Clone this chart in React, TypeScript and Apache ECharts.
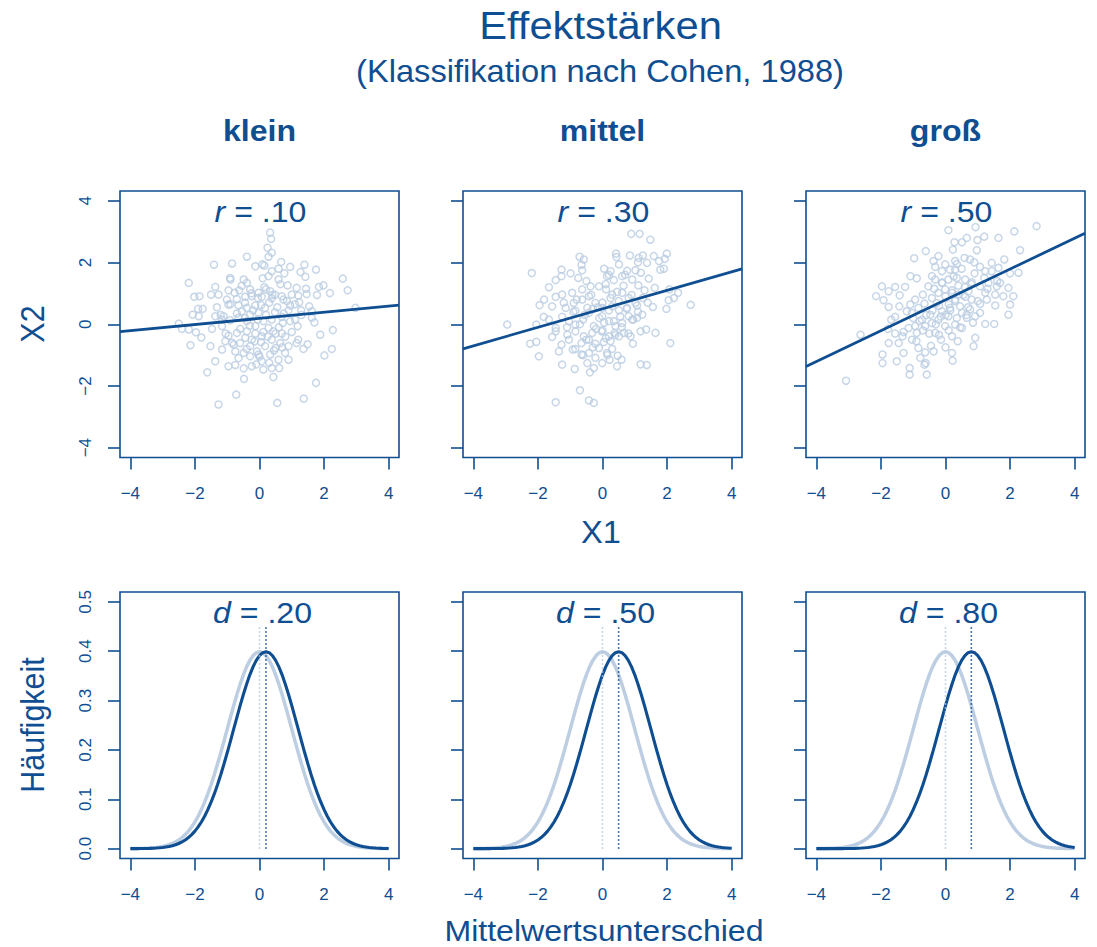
import React, { useEffect, useRef } from 'react';
import * as echarts from 'echarts';

const DARK = '#0f4e91';
const LIGHT = '#bdcee2';
const POINT = '#b9cce1';
const FONT = '"Liberation Sans", Arial, Helvetica, sans-serif';
const SX = 1.07;

const titleText = 'Effektstärken';
const subtitleText = '(Klassifikation nach Cohen, 1988)';
const columnHeaders = ['klein', 'mittel', 'groß'];
const rLabels = ['.10', '.30', '.50'];
const dLabels = ['.20', '.50', '.80'];
const dValues = [0.2, 0.5, 0.8];
const regIntercepts = [0.19, 0.5, 0.79];
const regSlopes = [0.1, 0.3, 0.5];
const xTicks = [-4, -2, 0, 2, 4];
const yTicksTop = [-4, -2, 0, 2, 4];
const yTicksBottom = [0, 0.1, 0.2, 0.3, 0.4, 0.5];
const dottedTop = 0.45;

// standard normal density at z = 0, 0.1, ..., 4.8
const normalPdfTable = [
  0.3989, 0.397, 0.391, 0.3814, 0.3683, 0.3521, 0.3332, 0.3123, 0.2897, 0.2661,
  0.242, 0.2179, 0.1942, 0.1714, 0.1497, 0.1295, 0.1109, 0.094, 0.079, 0.0656,
  0.054, 0.044, 0.0355, 0.0283, 0.0224, 0.0175, 0.0136, 0.0104, 0.0079, 0.006,
  0.0044, 0.0033, 0.0024, 0.0017, 0.0012, 0.0009, 0.0006, 0.0004, 0.0003, 0.0002,
  0.0001, 0.0001, 0.0001, 0, 0, 0, 0, 0, 0,
];

const scatterKlein = [
  [0.33, 2.97], [0.36, 2.77], [0.25, 2.48], [0.38, 2.32], [0.28, 2.19], [0.09, 1.94], [-0.39, 2.19], [-1.41, 1.93], [-0.85, 1.97], [0.67, 2.02],
  [0.95, 1.86], [1.39, 1.93], [1.75, 1.77], [1.27, 1.69], [1.42, 1.54], [2.58, 1.48], [2.73, 1.1], [-2.19, 1.34], [-1.37, 1.21], [-2.02, 0.89],
  [-1.86, 0.91], [-1.5, 0.96], [-0.91, 1.5], [-0.9, 1.45], [-0.49, 1.45], [-0.13, 1.88], [0.15, 1.9], [0.38, 1.72], [0.59, 1.8], [0.77, 1.65],
  [0.1, 1.49], [0.28, 1.56], [0.59, 1.45], [0.87, 1.26], [1.15, 1.18], [1.44, 1.15], [1.46, 0.98], [1.84, 1.21], [1.98, 1.26], [2.18, 1.01],
  [1.78, 0.95], [1.2, 0.93], [1.0, 0.96], [0.69, 0.91], [0.48, 0.96], [0.33, 1.07], [0.2, 1.13], [-0.03, 1.02], [-0.29, 1.13], [-0.39, 1.34],
  [-0.63, 1.1], [-0.77, 1.02], [-0.96, 1.1], [-1.27, 0.96], [-1.01, 0.8], [-0.7, 0.82], [-0.44, 0.89], [-0.24, 0.91], [0.07, 0.89], [0.38, 0.84],
  [0.74, 0.8], [0.95, 0.61], [1.23, 0.71], [1.54, 0.58], [1.62, 0.42], [1.29, 0.45], [0.9, 0.45], [0.69, 0.24], [0.48, 0.39], [0.17, 0.53],
  [-0.13, 0.61], [-0.39, 0.53], [-0.65, 0.61], [-0.96, 0.64], [-1.32, 0.55], [-1.76, 0.5], [-1.9, 0.5], [-2.07, 0.31], [-1.88, 0.26], [-2.5, 0.02],
  [-2.4, -0.15], [-2.19, -0.17], [-1.97, -0.26], [-1.8, -0.43], [-2.14, -0.68], [-1.47, -0.15], [-1.16, -0.06], [-1.37, 0.26], [-1.11, 0.26], [-0.91, 0.13],
  [-0.65, 0.21], [-0.39, 0.1], [-0.13, -0.06], [0.12, 0.1], [0.38, 0.15], [0.72, 0.04], [1.1, 0.15], [1.18, -0.06], [1.62, 0.21], [1.7, 0.06],
  [2.97, 0.53], [2.27, -0.19], [1.88, -0.34], [1.2, -0.5], [1.15, -0.61], [1.49, -0.65], [0.9, -0.71], [0.64, -0.61], [0.38, -0.5], [0.07, -0.39],
  [-0.13, -0.3], [-0.39, -0.23], [-0.7, -0.28], [-0.96, -0.37], [-1.06, -0.55], [-0.8, -0.66], [-0.6, -0.61], [-0.29, -0.71], [-0.08, -0.88], [0.17, -0.71],
  [0.5, -0.77], [0.79, -0.93], [0.9, -1.15], [0.59, -1.15], [0.33, -0.98], [0.07, -1.2], [0.12, -1.47], [0.38, -1.42], [0.61, -1.42], [-0.03, -0.98],
  [-0.29, -1.04], [-0.49, -0.93], [-0.75, -0.88], [-1.16, -0.82], [-1.37, -1.2], [-1.62, -1.56], [-0.96, -1.36], [-0.75, -1.32], [-0.49, -1.43], [-0.24, -1.36],
  [-0.48, -1.77], [0.43, -1.71], [2.24, -0.8], [2.01, -1.01], [1.36, -0.8], [1.75, -1.9], [1.37, -2.41], [0.55, -2.55], [-0.72, -2.28], [-1.27, -2.6],
  [-1.16, 0.15], [-1.52, -0.71], [0.28, -0.12], [-0.03, 0.37], [-0.29, 0.31], [-0.55, 0.42], [0.43, -0.23], [0.69, -0.3], [0.05, -0.58], [-0.24, -0.5],
  [-0.44, -0.44], [-0.2, 0.45], [0.05, 0.62], [0.3, 0.7], [0.55, 0.55], [-0.45, 0.7], [-0.7, 0.35], [0.75, 0.35], [0.95, 0.1], [-0.05, 0.15],
  [0.2, 0.3], [-0.3, -0.05], [0.6, -0.1], [-0.6, -0.15], [0.25, -0.4], [-0.15, -0.55], [0.45, -0.85], [-0.4, -0.8], [0.8, -0.4], [1.0, -0.25],
  [-0.85, -0.6], [0.15, 1.2], [-0.25, 1.0], [0.65, 1.3], [-0.55, 1.25], [0.0, -1.05], [0.3, -1.25], [-0.65, -1.1], [1.3, 0.3], [-1.2, 0.3],
  [0.85, 0.75], [-0.9, 0.65], [0.4, 0.95], [-0.05, 0.85], [0.12, -0.25], [-0.45, 0.2], [0.5, -0.3], [1.1, 0.65], [-1.05, -0.3], [0.7, -0.75],
  [-0.1, -1.3],
];

const scatterMittel = [
  [0.89, 2.93], [1.15, 2.93], [1.48, 2.74], [0.42, 2.29], [0.43, 2.18], [0.85, 2.23], [1.12, 2.15], [1.25, 2.23], [1.59, 2.21], [1.99, 2.29],
  [1.93, 2.12], [1.75, 2.05], [1.38, 1.99], [1.1, 2.01], [-0.71, 2.19], [-0.58, 2.1], [-0.65, 1.93], [-0.63, 1.75], [-2.19, 1.66], [-1.27, 1.77],
  [-0.99, 1.65], [-1.27, 1.56], [-1.45, 1.43], [-0.75, 1.5], [0.05, 1.8], [0.25, 1.72], [0.51, 1.94], [0.76, 1.73], [1.02, 1.75], [1.19, 1.67],
  [1.43, 1.48], [1.79, 1.77], [1.9, 1.8], [0.14, 1.56], [0.35, 1.43], [0.61, 1.56], [0.92, 1.45], [1.11, 1.26], [1.62, 1.18], [2.07, 1.13],
  [2.34, 1.02], [2.21, 0.85], [2.05, 0.78], [1.98, 0.5], [2.73, 0.63], [-1.66, 1.2], [-1.45, 0.89], [-1.81, 0.8], [-1.95, 0.62], [-1.56, 0.58],
  [-1.25, 0.96], [-0.94, 1.02], [-0.63, 1.13], [-0.37, 1.23], [-0.11, 1.23], [0.11, 1.13], [0.3, 0.96], [0.61, 1.02], [0.81, 0.85], [1.02, 0.69],
  [1.25, 0.85], [1.56, 0.56], [-0.42, 0.91], [-0.63, 0.8], [-0.89, 0.69], [-1.14, 0.53], [-0.84, 0.44], [-0.47, 0.53], [-0.22, 0.69], [-0.01, 0.53],
  [0.3, 0.58], [0.51, 0.45], [0.81, 0.26], [1.07, 0.61], [0.76, 0.53], [-2.95, -0.01], [-1.82, 0.24], [-2.05, -0.01], [-1.66, 0.15], [-1.45, -0.12],
  [-1.25, 0.24], [-1.04, 0.1], [-0.84, -0.01], [-0.6, 0.15], [-0.42, 0.37], [-0.27, -0.06], [-0.01, 0.26], [0.2, 0.1], [0.4, -0.06], [0.61, 0.04],
  [0.92, 0.15], [1.07, 0.21], [1.23, 0.31], [1.64, -0.28], [1.18, -0.23], [1.35, -0.17], [0.87, -0.39], [0.66, -0.28], [0.38, -0.28], [0.2, -0.39],
  [-0.03, -0.23], [-0.32, -0.28], [-0.58, -0.39], [-0.84, -0.23], [-1.09, -0.34], [-1.45, -0.23], [-1.56, -0.41], [-2.24, -0.63], [-2.05, -0.57], [-1.97, -1.04],
  [-1.27, -0.66], [-1.04, -0.5], [-0.65, -0.61], [-0.42, -0.5], [-0.22, -0.63], [0.04, -0.58], [0.25, -0.55], [0.51, -0.39], [0.94, -0.63], [2.1, -0.61],
  [-1.35, -0.88], [-0.92, -0.82], [-0.65, -0.98], [-0.42, -0.93], [-0.22, -1.09], [-0.01, -1.26], [0.22, -1.15], [0.47, -1.02], [0.59, -1.15], [0.45, -1.36],
  [-1.25, -1.31], [-0.86, -1.45], [-0.47, -1.26], [-0.39, -1.56], [-0.27, -1.42], [1.18, -1.3], [1.37, -1.32], [-0.7, -2.14], [-1.45, -2.53], [-0.42, -2.47],
  [-0.27, -2.55], [0.14, -0.93], [-0.11, -0.77], [-0.84, -0.8], [-0.3, 0.5], [0.0, 0.7], [0.25, 0.85], [0.5, 0.75], [-0.55, 0.3], [0.75, 0.5],
  [-0.1, 0.2], [0.2, 0.45], [0.45, 1.05], [-0.35, 0.95], [0.1, 1.3], [0.65, 1.25], [-0.7, 0.0], [0.9, 0.95], [-0.2, -0.15], [0.35, 0.1],
  [0.6, -0.1], [-0.5, -0.5], [0.1, -0.45], [0.8, -0.3], [-0.9, 0.4], [1.1, 0.4], [0.3, -0.8], [-0.3, -0.75], [0.0, -0.2], [-0.8, 0.8],
  [1.3, 1.1], [0.2, 1.6], [-0.5, 1.4], [0.55, 0.25], [-0.15, 0.55], [0.05, 0.05], [0.95, 0.15], [-1.1, -0.1], [0.7, 1.6], [-0.6, -1.0],
  [0.4, -0.35], [1.4, 0.7], [-1.2, 0.7], [0.15, -1.0],
];

const scatterGross = [
  [2.82, 3.18], [2.13, 3.01], [0.93, 3.15], [0.09, 3.05], [1.2, 2.84], [0.99, 2.73], [1.64, 2.8], [0.66, 2.8], [0.51, 2.66], [0.28, 2.66],
  [0.23, 2.42], [0.97, 2.4], [2.31, 2.4], [-0.61, 2.37], [-0.97, 2.14], [-0.22, 2.21], [-0.37, 2.05], [-0.32, 1.86], [-0.01, 1.94], [0.3, 2.05],
  [0.59, 2.15], [0.76, 2.1], [0.89, 2.01], [1.07, 1.86], [1.43, 1.99], [1.64, 1.83], [1.82, 2.1], [2.0, 1.65], [2.26, 1.67], [1.43, 1.72],
  [1.23, 1.72], [0.3, 1.77], [0.14, 1.77], [-0.11, 1.72], [-0.42, 1.56], [-1.09, 1.56], [-0.89, 1.49], [-1.25, 1.21], [-1.56, 1.21], [-1.97, 1.23],
  [-1.76, 1.07], [-2.15, 0.91], [-1.42, 0.94], [-1.92, 0.78], [-1.76, 0.56], [-1.43, 0.58], [-1.09, 0.64], [-0.94, 0.8], [-0.7, 0.96], [-0.53, 1.23],
  [-0.32, 1.45], [-0.11, 1.34], [0.09, 1.45], [0.35, 1.5], [0.61, 1.45], [0.81, 1.36], [1.07, 1.23], [1.33, 1.34], [1.59, 1.23], [1.69, 1.34],
  [1.95, 1.18], [2.1, 0.91], [1.79, 0.91], [1.54, 0.61], [1.28, 0.8], [1.07, 0.66], [0.81, 0.8], [0.61, 0.89], [0.4, 0.96], [0.2, 1.02],
  [-0.01, 1.13], [-0.22, 1.02], [-0.42, 0.85], [-0.65, 0.67], [-0.84, 0.53], [-1.04, 0.37], [-1.2, 0.42], [-1.56, 0.24], [-1.68, 0.15], [-2.63, -0.34],
  [-1.78, -0.15], [-1.56, -0.3], [-1.45, -0.61], [-1.76, -0.61], [-1.95, -0.98], [-1.95, -1.26], [-1.51, -1.2], [-1.3, -0.93], [-1.04, -0.5], [-0.84, -0.77],
  [-0.63, -0.91], [-0.37, -0.88], [-0.78, -1.09], [-0.61, -1.26], [-1.11, -1.42], [-1.11, -1.63], [-0.58, -1.63], [-0.65, -1.31], [0.2, -0.93], [0.22, -1.18],
  [0.38, -0.55], [0.2, -0.39], [-0.14, -0.5], [-0.32, -0.28], [-0.01, -0.06], [0.3, -0.01], [0.51, -0.12], [0.87, -0.71], [0.92, -0.44], [0.66, 0.21],
  [0.92, 0.26], [1.23, 0.01], [1.51, 0.01], [1.95, 0.31], [2.0, 0.64], [-0.42, 0.04], [-0.63, -0.06], [-0.94, -0.06], [-1.14, -0.12], [-1.33, -0.39],
  [-0.89, -0.28], [-0.22, 0.15], [0.09, 0.26], [0.51, 0.37], [0.76, 0.48], [1.07, 0.37], [-3.08, -1.83], [0.45, 0.58], [0.14, 0.53], [-0.11, 0.42],
  [-0.47, 0.31], [-0.73, 0.15], [-0.27, 0.69], [0.3, 0.75], [0.71, 1.07], [1.23, 1.02], [1.54, 0.96], [-0.2, 0.6], [0.0, 0.9], [0.2, 1.1],
  [0.4, 1.25], [0.6, 1.2], [-0.4, 0.45], [0.1, 0.65], [0.3, 0.8], [0.55, 0.95], [0.8, 1.3], [-0.1, 1.35], [0.25, 1.55], [-0.6, 0.3],
  [-0.3, 0.0], [0.0, 0.3], [0.35, 0.2], [0.7, 0.55], [1.0, 0.75], [-0.8, 0.1], [-0.5, -0.3], [-0.2, -0.35], [0.1, -0.2], [0.45, -0.1],
  [-0.9, -0.55], [1.2, 1.5], [-0.35, 1.15], [0.9, 1.65], [0.5, 1.8], [-0.7, -0.2], [0.15, 0.45], [-1.0, 0.2], [1.3, 1.15], [0.65, 0.3],
  [-0.45, -0.7], [0.0, -0.75], [1.6, 1.4], [-1.3, -0.25], [0.35, 1.95], [-0.15, 0.25], [0.85, 0.05],
];

const scatterSets = [scatterKlein, scatterMittel, scatterGross];

const colLeft = [120, 463, 806];
const gridW = 279;
const rowTop = [191, 592];
const rowH = 266.5;
const X_MIN = -4.32, X_MAX = 4.32;

const fmtMinus = (v: number) => (v < 0 ? '\u2212' + Math.abs(v) : String(v));

function densityCurve(shiftTenths: number) {
  const pts: number[][] = [];
  for (let i = -40; i <= 40; i++) {
    const idx = Math.min(Math.abs(i - shiftTenths), normalPdfTable.length - 1);
    pts.push([i / 10, normalPdfTable[idx]]);
  }
  return pts;
}

function gtext(x: number, y: number, text: string, size: number, extra: any = {}) {
  return {
    type: 'text',
    x,
    y,
    rotation: extra.rotation || 0,
    scaleX: extra.scaleX ?? SX,
    scaleY: extra.scaleY ?? 1,
    silent: true,
    style: {
      text,
      fill: DARK,
      fontSize: size,
      fontFamily: FONT,
      fontWeight: extra.weight || 'normal',
      lineHeight: extra.lineHeight,
      align: 'center',
      verticalAlign: 'middle',
      textAlign: 'center',
      textVerticalAlign: 'middle',
      rich: extra.rich,
    },
  };
}

export default function App() {
  const ref = useRef<HTMLDivElement>(null);
  useEffect(() => {
    if (!ref.current) return;
    const chart = echarts.init(ref.current, undefined, { renderer: 'svg' });
    const grids: any[] = [];
    const xAxes: any[] = [];
    const yAxes: any[] = [];
    const series: any[] = [];
    let gi = 0;
    for (let row = 0; row < 2; row++) {
      for (let col = 0; col < 3; col++) {
        grids.push({
          left: colLeft[col],
          top: rowTop[row],
          width: gridW,
          height: rowH,
          show: true,
          borderColor: DARK,
          borderWidth: 1.6,
          backgroundColor: 'transparent',
          containLabel: false,
        });
        xAxes.push({
          type: 'value',
          gridIndex: gi,
          min: X_MIN,
          max: X_MAX,
          axisLine: { show: false, onZero: false },
          splitLine: { show: false },
          axisTick: { show: true, customValues: xTicks, length: 12, lineStyle: { color: DARK, width: 1.6 } },
          axisLabel: {
            show: true,
            customValues: xTicks,
            formatter: fmtMinus,
            color: DARK,
            fontSize: 17,
            fontFamily: FONT,
            margin: 27,
            lineHeight: 17,
          },
        });
        const yt = row === 0 ? yTicksTop : yTicksBottom;
        yAxes.push({
          type: 'value',
          gridIndex: gi,
          min: row === 0 ? -4.32 : -0.02,
          max: row === 0 ? 4.32 : 0.52,
          axisLine: { show: false, onZero: false },
          splitLine: { show: false },
          axisTick: { show: true, customValues: yt, length: 12, lineStyle: { color: DARK, width: 1.6 } },
          axisLabel: {
            show: col === 0,
            customValues: yt,
            rotate: 90,
            formatter: row === 0 ? fmtMinus : (v: number) => v.toFixed(1),
            color: DARK,
            fontSize: 17,
            fontFamily: FONT,
            margin: 26,
            lineHeight: 17,
          },
        });
        if (row === 0) {
          series.push({
            type: 'scatter',
            xAxisIndex: gi,
            yAxisIndex: gi,
            data: scatterSets[col],
            symbol: 'circle',
            symbolSize: 7,
            silent: true,
            itemStyle: { color: 'rgba(255,255,255,0)', borderColor: POINT, borderWidth: 1.5 },
          });
          const a = regIntercepts[col];
          const b = regSlopes[col];
          series.push({
            type: 'line',
            xAxisIndex: gi,
            yAxisIndex: gi,
            data: [
              [X_MIN, a + b * X_MIN],
              [X_MAX, a + b * X_MAX],
            ],
            symbol: 'none',
            silent: true,
            lineStyle: { color: DARK, width: 2.8 },
          });
        } else {
          const d = dValues[col];
          series.push({
            type: 'line',
            xAxisIndex: gi,
            yAxisIndex: gi,
            data: densityCurve(0),
            symbol: 'none',
            smooth: false,
            silent: true,
            lineStyle: { color: LIGHT, width: 3.5 },
          });
          series.push({
            type: 'line',
            xAxisIndex: gi,
            yAxisIndex: gi,
            data: densityCurve(Math.round(d * 10)),
            symbol: 'none',
            smooth: false,
            silent: true,
            lineStyle: { color: DARK, width: 3.1 },
          });
          series.push({
            type: 'line',
            xAxisIndex: gi,
            yAxisIndex: gi,
            data: [
              [0, 0],
              [0, dottedTop],
            ],
            symbol: 'none',
            silent: true,
            lineStyle: { color: '#b3c7de', width: 1.6, type: [1.5, 2.5] },
          });
          series.push({
            type: 'line',
            xAxisIndex: gi,
            yAxisIndex: gi,
            data: [
              [d, 0],
              [d, dottedTop],
            ],
            symbol: 'none',
            silent: true,
            lineStyle: { color: DARK, width: 1.6, type: [1.5, 2.5] },
          });
        }
        gi++;
      }
    }

    const colCenter = colLeft.map((l) => l + gridW / 2);
    const elements: any[] = [
      gtext(600.5, 25, titleText, 39),
      gtext(600, 71, subtitleText, 30.5),
      gtext(32.5, 324, 'X2', 30.5, { rotation: Math.PI / 2, scaleX: 1, scaleY: SX }),
      gtext(32.5, 725, 'Häufigkeit', 30.5, { rotation: Math.PI / 2, scaleX: 1, scaleY: SX }),
      gtext(601, 532.5, 'X1', 30.5),
      gtext(604, 931, 'Mittelwertsunterschied', 30, { lineHeight: 28 }),
    ];
    const richR = { i: { fontStyle: 'italic', fontSize: 30, fontFamily: FONT, fill: DARK } };
    for (let c = 0; c < 3; c++) {
      elements.push(gtext(colCenter[c], 131, columnHeaders[c], 30, { weight: 'bold' }));
      elements.push(gtext(colCenter[c] + 1, 212, '{i|r} = ' + rLabels[c], 30, { rich: richR }));
      elements.push(gtext(colCenter[c] + 3, 612.5, '{i|d} = ' + dLabels[c], 30, { rich: richR }));
    }

    chart.setOption({
      animation: false,
      backgroundColor: '#ffffff',
      grid: grids,
      xAxis: xAxes,
      yAxis: yAxes,
      series,
      graphic: { elements },
    });
    return () => chart.dispose();
  }, []);
  return (
    <div
      ref={ref}
      style={{ position: 'absolute', left: 0, top: 0, width: 1097, height: 947 }}
    />
  );
}
